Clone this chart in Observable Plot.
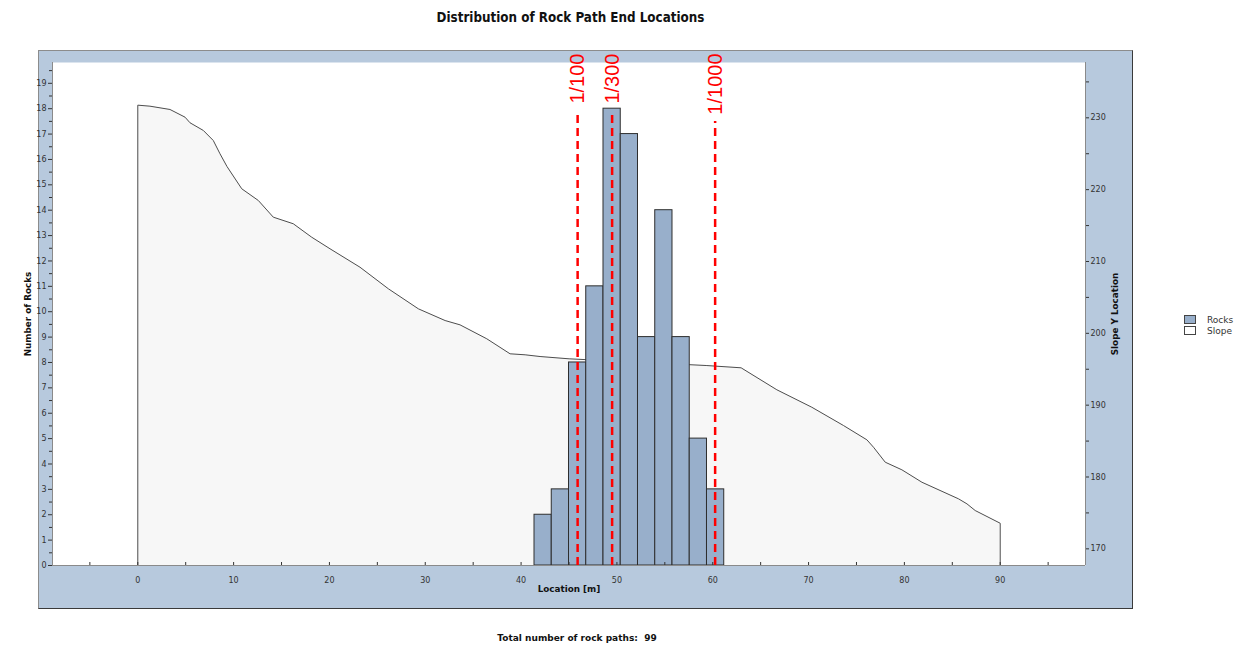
<!DOCTYPE html>
<html><head><meta charset="utf-8">
<script src="https://cdn.jsdelivr.net/npm/d3@7"></script>
<script src="https://cdn.jsdelivr.net/npm/@observablehq/plot@0.6"></script>
<style>
body{margin:0;background:#fff;}
#wrap{position:relative;width:1242px;height:645px;overflow:hidden;font-family:"DejaVu Sans",sans-serif;}
#panel{position:absolute;left:38px;top:50px;width:1095px;height:559px;box-sizing:border-box;background:#b7c9dd;border:1px solid #8c8c8c;border-right-color:#3a3a3a;border-bottom-color:#3a3a3a;}
#title{position:absolute;left:0;top:10px;width:1141px;text-align:center;font-weight:bold;font-size:13.3px;font-stretch:condensed;color:#111;}
#chart{position:absolute;left:0;top:40px;}
#footer{position:absolute;left:0;top:633px;width:1154px;text-align:center;font-weight:bold;font-size:9px;white-space:pre;color:#111;}
#legend{position:absolute;left:1184px;top:314px;font-size:9px;color:#333;}
.item{display:flex;align-items:center;height:11px;}
.sw{width:12px;height:9px;border:1px solid #444;margin-right:11px;box-sizing:border-box;}
</style>
</head><body>
<div id="wrap">
  <div id="panel"></div>
  <div id="title">Distribution of Rock Path End Locations</div>
  <div id="chart"></div>
  <div id="legend">
    <div class="item"><div class="sw" style="background:#98afcb"></div><span>Rocks</span></div>
    <div class="item"><div class="sw" style="background:#ffffff"></div><span>Slope</span></div>
  </div>
  <div id="footer">Total number of rock paths:  99</div>
</div>
<script>
// Histogram of rock end locations
const binEdges = [41.4, 43.2, 45.0, 46.8, 48.6, 50.4, 52.2, 54.0, 55.8, 57.6, 59.4, 61.2];
const counts = [2, 3, 8, 11, 18, 17, 9, 14, 9, 5, 3];

// Slope profile (x in m, y on right axis)
const slopeX = [0, 1.27, 3.36, 4.93, 5.45, 6.84, 7.88, 8.58, 9.31, 10.85, 12.58, 14.14, 16.23, 18.15, 20.06, 23.19, 26.15, 29.28, 32.07, 33.63, 36.42, 38.85, 40.42, 41.98, 45.01, 59.31, 62.96, 66.69, 70.34, 73.64, 76.09, 76.78, 78.0, 79.74, 81.83, 85.65, 86.53, 87.39, 90];
const slopeY = [231.76, 231.62, 231.16, 230.09, 229.31, 228.24, 226.84, 224.99, 223.22, 220.12, 218.49, 216.17, 215.25, 213.38, 211.77, 209.20, 206.20, 203.41, 201.78, 201.18, 199.24, 197.15, 197.01, 196.77, 196.45, 195.52, 195.20, 192.14, 189.71, 187.17, 185.17, 184.14, 182.06, 181.0, 179.27, 176.96, 176.26, 175.33, 173.56];

// Return-period markers
const markerLabels = ["1/100", "1/300", "1/1000"];
const markerX = [45.9, 49.5, 60.25];

// Axis ticks
const xMajorTicks = [0, 10, 20, 30, 40, 50, 60, 70, 80, 90];
const xMinorTicks = [-5, 0, 5, 10, 15, 20, 25, 30, 35, 40, 45, 50, 55, 60, 65, 70, 75, 80, 85, 90, 95];
const yLeftTicks = [0, 1, 2, 3, 4, 5, 6, 7, 8, 9, 10, 11, 12, 13, 14, 15, 16, 17, 18, 19];
const yLeftMinor = [0.5, 1.5, 2.5, 3.5, 4.5, 5.5, 6.5, 7.5, 8.5, 9.5, 10.5, 11.5, 12.5, 13.5, 14.5, 15.5, 16.5, 17.5, 18.5, 19.5];
const yRightTicks = [170, 180, 190, 200, 210, 220, 230];
const yRightMinor = [175, 185, 195, 205, 215, 225, 235];

const xDomain = [-8.9, 98.9];
const yMax = 19.82, rMin = 167.68, rMax = 237.70;

const W = 1242, H = 575, mL = 52, mR = 157, mT = 22, mB = 50;
const innerH = H - mT - mB;
const toLeft = v => (v - rMin) / (rMax - rMin) * yMax;
const fromLeft = y => rMin + y / yMax * (rMax - rMin);

const slope = slopeX.map((x, i) => ({x, y: toLeft(slopeY[i])}));
const slopeOutline = [{x: slopeX[0], y: 0}, ...slope, {x: slopeX[slopeX.length - 1], y: 0}];
const bars = counts.map((c, i) => ({x1: binEdges[i], x2: binEdges[i + 1], y: c}));
const charPx = 10, labelDy = -9, gap = 8;
const markers = markerLabels.map((label, i) => ({
  label, x: markerX[i],
  top: yMax * (1 - (labelDy + label.length * charPx + gap) / innerH)
}));

const tickColor = "#333";
const chart = Plot.plot({
  width: W, height: H,
  marginLeft: mL, marginRight: mR, marginTop: mT, marginBottom: mB,
  style: {background: "transparent", fontFamily: "DejaVu Sans, sans-serif", fontSize: "8px", color: "#333"},
  x: {domain: xDomain},
  y: {domain: [0, yMax]},
  marks: [
    Plot.frame({fill: "white", stroke: null}),
    Plot.areaY(slope, {x: "x", y1: 0, y2: "y", fill: "#f7f7f7"}),
    Plot.line(slopeOutline, {x: "x", y: "y", stroke: "#4d4d4d", strokeWidth: 1}),
    Plot.rect(bars, {x1: "x1", x2: "x2", y1: 0, y2: "y", fill: "#98afcb", stroke: "#2e2e2e", strokeWidth: 1}),
    Plot.ruleX(markers, {x: "x", y1: 0, y2: "top", stroke: "#ff0000", strokeWidth: 2.5, strokeDasharray: "8,5"}),
    Plot.text(markers, {x: "x", text: "label", frameAnchor: "top", dy: labelDy, rotate: -90, textAnchor: "end", lineAnchor: "middle", fill: "#ff0000", fontSize: 20, fontFamily: "Liberation Sans, sans-serif"}),
    Plot.ruleX(xDomain, {stroke: "#8a8a8a"}),
    Plot.ruleY([0], {stroke: "#8a8a8a"}),
    // x axis
    Plot.axisX(xMajorTicks, {tickSize: 0, tickPadding: 12, label: null, color: tickColor}),
    Plot.axisX(xMinorTicks, {tickSize: -3, tickFormat: () => "", label: null, color: tickColor}),
    // left axis
    Plot.axisY(yLeftTicks, {anchor: "left", tickSize: 4, tickPadding: 2, label: null, color: tickColor}),
    Plot.axisY(yLeftMinor, {anchor: "left", tickSize: 3, tickFormat: () => "", label: null, color: tickColor}),
    // right axis
    Plot.axisY(yRightTicks.map(toLeft), {anchor: "right", tickSize: 3, tickPadding: 2, label: null, color: tickColor, tickFormat: d => Math.round(fromLeft(d))}),
    Plot.axisY(yRightMinor.map(toLeft), {anchor: "right", tickSize: 3, tickFormat: () => "", label: null, color: tickColor}),
    // axis titles
    Plot.text(["Number of Rocks"], {frameAnchor: "left", dx: -24, rotate: -90, textAnchor: "middle", fontWeight: "bold", fill: "#111", fontSize: 8.8}),
    Plot.text(["Slope Y Location"], {frameAnchor: "right", dx: 30, rotate: -90, textAnchor: "middle", fontWeight: "bold", fill: "#111", fontSize: 8.8}),
    Plot.text(["Location [m]"], {frameAnchor: "bottom", dy: 26, textAnchor: "middle", fontWeight: "bold", fill: "#111", fontSize: 8.8})
  ]
});
document.getElementById("chart").appendChild(chart);
</script>
</body></html>
